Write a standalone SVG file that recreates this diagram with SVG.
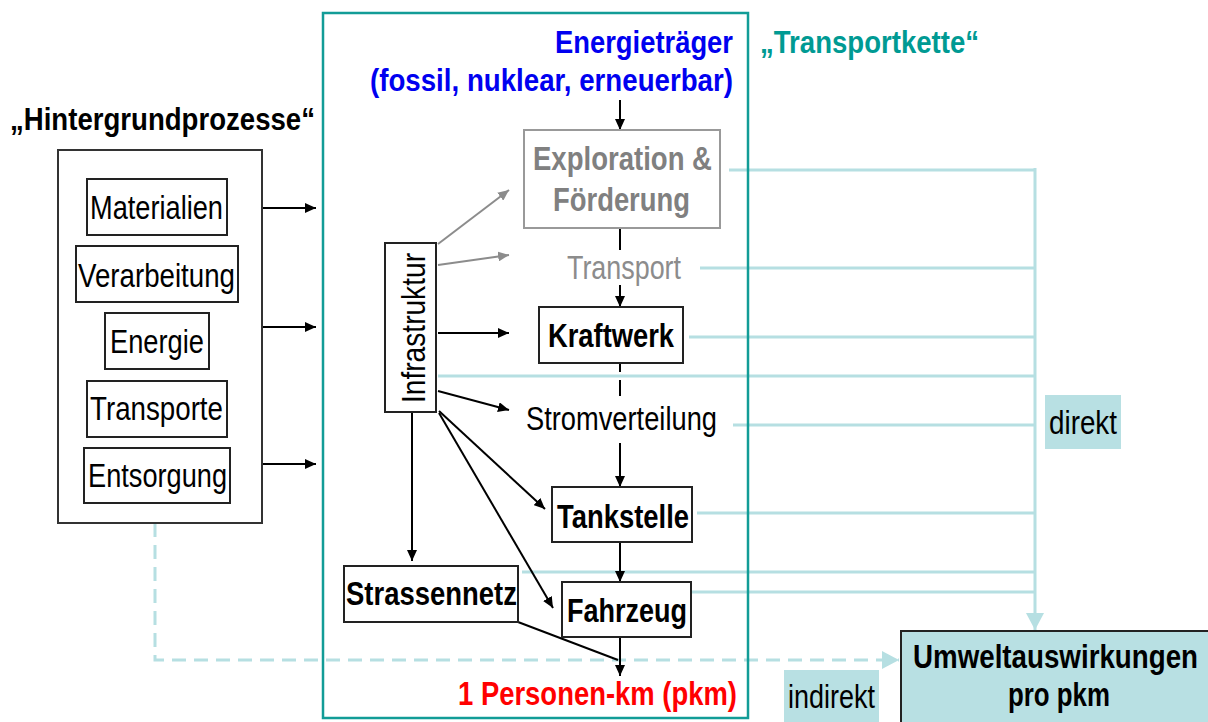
<svg xmlns="http://www.w3.org/2000/svg" width="1208" height="722" viewBox="0 0 1208 722">
<style>
text{font-family:"Liberation Sans",Arial,sans-serif;font-size:33px;fill:#000}
.b{font-weight:bold}
.t{font-size:31px}
.box{fill:#fff;stroke:#222;stroke-width:2}
.ln{stroke:#000;stroke-width:2;fill:none}
.gl{stroke:#8c8c8c;stroke-width:2;fill:none}
.lt{stroke:#b6dfe2;stroke-width:3;fill:none}
</style>
<defs>
<marker id="ah" markerUnits="userSpaceOnUse" markerWidth="11" markerHeight="10" refX="11" refY="5" orient="auto"><path d="M0,0 L11,5 L0,10 z" fill="#000"/></marker>
<marker id="ag" markerUnits="userSpaceOnUse" markerWidth="11" markerHeight="10" refX="11" refY="5" orient="auto"><path d="M0,0 L11,5 L0,10 z" fill="#8c8c8c"/></marker>
<marker id="at" markerUnits="userSpaceOnUse" markerWidth="17" markerHeight="18" refX="17" refY="9" orient="auto"><path d="M0,0 L17,9 L0,18 z" fill="#b6dfe2"/></marker>
</defs>
<rect width="1208" height="722" fill="#fff"/>

<g id="connectors">
<path class="lt" d="M729,170 H1035"/>
<path class="lt" d="M700,268 H1035"/>
<path class="lt" d="M689,337 H1035"/>
<path class="lt" d="M438,376 H1035"/>
<path class="lt" d="M733,425 H1035"/>
<path class="lt" d="M697,513 H1035"/>
<path class="lt" d="M522,572 H1035"/>
<path class="lt" d="M689,592 H1035"/>
<path class="lt" d="M1035,168 V630" marker-end="url(#at)"/>
<path class="lt" d="M155,523 V660 H899" stroke-dasharray="14 8" marker-end="url(#at)"/>
<path class="ln" d="M262,208 H316" marker-end="url(#ah)"/>
<path class="ln" d="M262,327 H316" marker-end="url(#ah)"/>
<path class="ln" d="M262,464 H316" marker-end="url(#ah)"/>
<path class="gl" d="M438,244 L509,190" marker-end="url(#ag)"/>
<path class="gl" d="M438,265 L509,255" marker-end="url(#ag)"/>
<path class="ln" d="M438,333 H509" marker-end="url(#ah)"/>
<path class="ln" d="M438,391 L509,410" marker-end="url(#ah)"/>
<path class="ln" d="M439,411 L545,509" marker-end="url(#ah)"/>
<path class="ln" d="M439,413 L553,608" marker-end="url(#ah)"/>
<path class="ln" d="M412,413 V561" marker-end="url(#ah)"/>
<path class="ln" d="M620,100 V130" marker-end="url(#ah)"/>
<path class="ln" d="M620,228 V250"/>
<path class="ln" d="M620,285 V307" marker-end="url(#ah)"/>
<path class="ln" d="M620,364 V372 M620,380 V396"/>
<path class="ln" d="M620,443 V487" marker-end="url(#ah)"/>
<path class="ln" d="M620,542 V582" marker-end="url(#ah)"/>
<path class="ln" d="M620,637 V676" marker-end="url(#ah)"/>
<path class="ln" d="M518,622 L618,660"/>
</g>

<g id="frame">
<rect x="323" y="13" width="425" height="705" fill="none" stroke="#129c97" stroke-width="2.5"/>
</g>

<g id="titles">
<text class="b t" x="555" y="53" textLength="178" lengthAdjust="spacingAndGlyphs" style="fill:#0000f0">Energieträger</text>
<text class="b t" x="370" y="91" textLength="363" lengthAdjust="spacingAndGlyphs" style="fill:#0000f0">(fossil, nuklear, erneuerbar)</text>
<text class="b t" x="760" y="53" textLength="219" lengthAdjust="spacingAndGlyphs" style="fill:#009a93">„Transportkette“</text>
<text class="b t" x="10" y="130" textLength="305" lengthAdjust="spacingAndGlyphs">„Hintergrundprozesse“</text>
<text class="b" x="458" y="705" textLength="279" lengthAdjust="spacingAndGlyphs" style="fill:#ff0000">1 Personen-km (pkm)</text>
</g>

<g id="hintergrund">
<rect x="58" y="150" width="204" height="373" fill="#fff" stroke="#333" stroke-width="2"/>
</g>
<g id="materialien"><rect class="box" x="87" y="179" width="140" height="56"/><text x="90" y="219" textLength="133" lengthAdjust="spacingAndGlyphs">Materialien</text></g>
<g id="verarbeitung"><rect class="box" x="76" y="246" width="162" height="56"/><text x="78" y="287" textLength="157" lengthAdjust="spacingAndGlyphs">Verarbeitung</text></g>
<g id="energie"><rect class="box" x="105" y="313" width="104" height="56"/><text x="110" y="353" textLength="94" lengthAdjust="spacingAndGlyphs">Energie</text></g>
<g id="transporte"><rect class="box" x="87" y="381" width="140" height="56"/><text x="90" y="420" textLength="133" lengthAdjust="spacingAndGlyphs">Transporte</text></g>
<g id="entsorgung"><rect class="box" x="84" y="448" width="146" height="55"/><text x="88" y="487" textLength="139" lengthAdjust="spacingAndGlyphs">Entsorgung</text></g>

<g id="infrastruktur"><rect class="box" x="385" y="243" width="51" height="169"/><text transform="translate(425,403) rotate(-90)" x="0" y="0" textLength="150" lengthAdjust="spacingAndGlyphs">Infrastruktur</text></g>

<g id="exploration"><rect x="524" y="130" width="196" height="98" fill="#fff" stroke="#999" stroke-width="2"/>
<text class="b" x="533" y="170" textLength="179" lengthAdjust="spacingAndGlyphs" style="fill:#808080">Exploration &amp;</text>
<text class="b" x="553" y="211" textLength="137" lengthAdjust="spacingAndGlyphs" style="fill:#808080">Förderung</text></g>
<g id="transport"><text x="567" y="279" textLength="114" lengthAdjust="spacingAndGlyphs" style="fill:#8c8c8c">Transport</text></g>
<g id="kraftwerk"><rect class="box" x="539" y="307" width="144" height="56"/><text class="b" x="548" y="347" textLength="126" lengthAdjust="spacingAndGlyphs">Kraftwerk</text></g>
<g id="stromverteilung"><text x="526" y="430" textLength="191" lengthAdjust="spacingAndGlyphs">Stromverteilung</text></g>
<g id="tankstelle"><rect class="box" x="552" y="487" width="140" height="55"/><text class="b" x="557" y="528" textLength="132" lengthAdjust="spacingAndGlyphs">Tankstelle</text></g>
<g id="fahrzeug"><rect class="box" x="562" y="582" width="129" height="55"/><text class="b" x="567" y="622" textLength="120" lengthAdjust="spacingAndGlyphs">Fahrzeug</text></g>
<g id="strassennetz"><rect class="box" x="344" y="566" width="174" height="56"/><text class="b" x="346" y="605" textLength="171" lengthAdjust="spacingAndGlyphs">Strassennetz</text></g>

<g id="umwelt"><rect x="901" y="631" width="307" height="91" fill="#b8e0e3"/>
<path d="M1208,631 H901 V722" fill="none" stroke="#222" stroke-width="2"/>
<text class="b" x="913" y="668" textLength="285" lengthAdjust="spacingAndGlyphs">Umweltauswirkungen</text>
<text class="b" x="1008" y="706" textLength="102" lengthAdjust="spacingAndGlyphs">pro pkm</text></g>
<g id="direkt"><rect x="1045" y="395" width="76" height="54" fill="#b8e0e3"/><text x="1049" y="434" textLength="68" lengthAdjust="spacingAndGlyphs">direkt</text></g>
<g id="indirekt"><rect x="784" y="670" width="95" height="52" fill="#b8e0e3"/><text x="788" y="708" textLength="87" lengthAdjust="spacingAndGlyphs">indirekt</text></g>
</svg>
